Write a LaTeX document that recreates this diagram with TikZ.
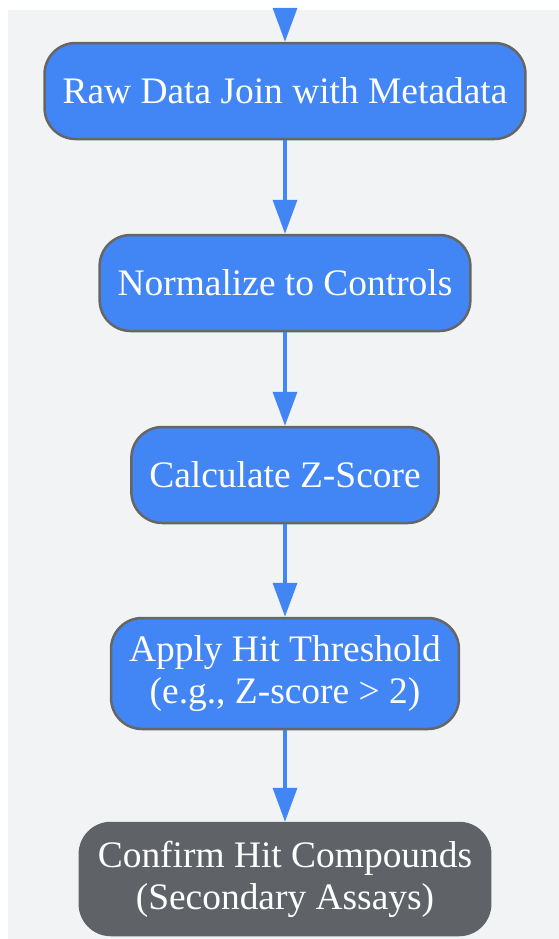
\documentclass[tikz,border=0pt]{standalone}
\usepackage{fontspec}
\setmainfont{Liberation Serif}
\usetikzlibrary{arrows.meta}
\definecolor{hitblue}{HTML}{4285F4}
\definecolor{hitgray}{HTML}{5F6368}
\definecolor{panelgray}{HTML}{F1F3F4}
\definecolor{edgegray}{HTML}{666666}

\begin{document}
\begin{tikzpicture}[
            box/.style={rectangle, rounded corners=0.62cm, align=center, text=white,
            font=\fontsize{21.3}{23.9}\selectfont, inner xsep=0.36cm,
            minimum height=1.92cm, line width=0.05cm},
            box1/.style={box, fill=hitblue, draw=edgegray},
            box2/.style={box, fill=hitgray, draw=hitgray},
            flow/.style={-{Triangle[length=0.68cm, width=0.48cm]}, draw=hitblue, line width=0.07cm}
        ]
            \useasboundingbox (0,0) rectangle (11.18,-18.78);
            \fill [panelgray] (0.16,-0.2) rectangle (11.18,-18.78);

            \coordinate (entry) at (5.7,-0.2);
            \node (join) [box1] at (5.7,-1.82) {Raw Data Join with Metadata};
            \node (normalize) [box1] at (5.7,-5.66) {Normalize to Controls};
            \node (zscore) [box1] at (5.7,-9.5) {Calculate Z-Score};
            \node (threshold) [box1, minimum height=2.22cm] at (5.7,-13.47) {Apply Hit Threshold\\(e.g., Z-score > 2)};
            \node (confirm) [box2, minimum height=2.24cm] at (5.7,-17.58) {Confirm Hit Compounds\\(Secondary Assays)};

            \draw [flow] (entry) -- (join);
            \draw [flow] (join) -- (normalize);
            \draw [flow] (normalize) -- (zscore);
            \draw [flow] (zscore) -- (threshold);
            \draw [flow] (threshold) -- (confirm);
        \end{tikzpicture}
\end{document}
